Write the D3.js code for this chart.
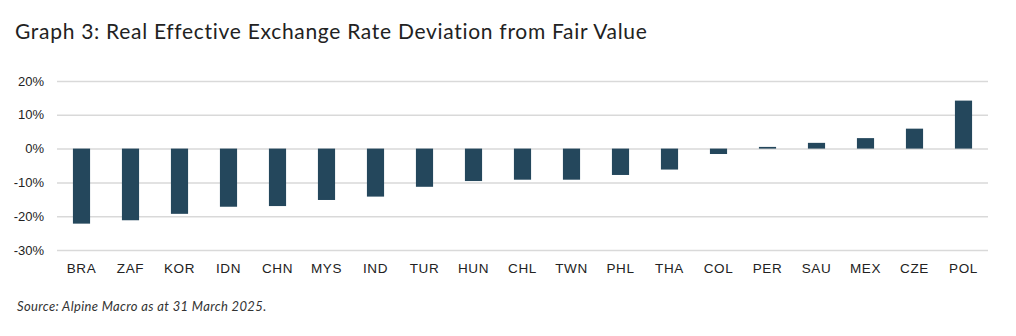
<!DOCTYPE html>
<html lang="en">
  <head>
    <meta charset="UTF-8" />
    <title>Real Effective Exchange Rate Deviation</title>
    <script src="https://d3js.org/d3.v7.min.js"></script>
    <style>
      body {
        margin: 0;
        background: #fff;
        font-family: Lato, 'Open Sans', sans-serif;
      }
      .title {
        font-size: 21px;
        letter-spacing: 0.7px;
        fill: #222;
      }
      .source {
        font-size: 13px;
        letter-spacing: 0.35px;
        font-style: italic;
        fill: #333;
      }
      .tick text {
        font-size: 13px;
        fill: #222;
      }
      .x-axis .tick text {
        font-size: 13.5px;
        letter-spacing: 0.6px;
      }
    </style>
  </head>
  <body>
    <svg width="1016" height="336"></svg>

    <script>
      // Deviation from fair value, in percent
      const countries = ['BRA', 'ZAF', 'KOR', 'IDN', 'CHN', 'MYS', 'IND', 'TUR', 'HUN', 'CHL',
        'TWN', 'PHL', 'THA', 'COL', 'PER', 'SAU', 'MEX', 'CZE', 'POL'];
      const deviation = [-22.2, -21.2, -19.3, -17.2, -17.0, -15.2, -14.2, -11.3, -9.6, -9.2,
        -9.2, -7.8, -6.2, -1.6, 0.5, 1.7, 3.1, 5.9, 14.2];
      const yTicks = [20, 10, 0, -10, -20, -30];

      const data = countries.map((c, i) => ({ country: c, value: deviation[i] }));

      const svg = d3.select('svg');
      const plotLeft = 57, plotRight = 988, plotTop = 81, plotBottom = 250;

      svg.append('text')
        .attr('class', 'title')
        .attr('x', 15)
        .attr('y', 39)
        .text('Graph 3: Real Effective Exchange Rate Deviation from Fair Value');

      const x = d3.scaleBand()
        .domain(countries)
        .range([plotLeft, plotRight])
        .paddingInner(0.65)
        .paddingOuter(0.325);

      const y = d3.scaleLinear()
        .domain([-30, 20])
        .range([plotBottom, plotTop]);

      // gridlines + percent labels
      const yAxis = svg.append('g')
        .attr('transform', `translate(${plotLeft},0)`)
        .call(d3.axisLeft(y)
          .tickValues(yTicks)
          .tickSize(-(plotRight - plotLeft))
          .tickPadding(13)
          .tickFormat(d => d + '%'));
      yAxis.select('.domain').remove();
      yAxis.selectAll('.tick line')
        .attr('stroke', '#d9d9d9')
        .attr('stroke-width', 1.5);

      svg.append('g')
        .selectAll('rect')
        .data(data)
        .join('rect')
        .attr('x', d => x(d.country))
        .attr('width', x.bandwidth())
        .attr('y', d => y(Math.max(0, d.value)))
        .attr('height', d => Math.abs(y(d.value) - y(0)))
        .attr('fill', '#24475c');

      const xAxis = svg.append('g')
        .attr('class', 'x-axis')
        .attr('transform', `translate(0,${plotBottom})`)
        .call(d3.axisBottom(x).tickSize(0).tickPadding(13));
      xAxis.select('.domain').remove();

      svg.append('text')
        .attr('class', 'source')
        .attr('x', 17)
        .attr('y', 311)
        .text('Source: Alpine Macro as at 31 March 2025.');
    </script>
  </body>
</html>
